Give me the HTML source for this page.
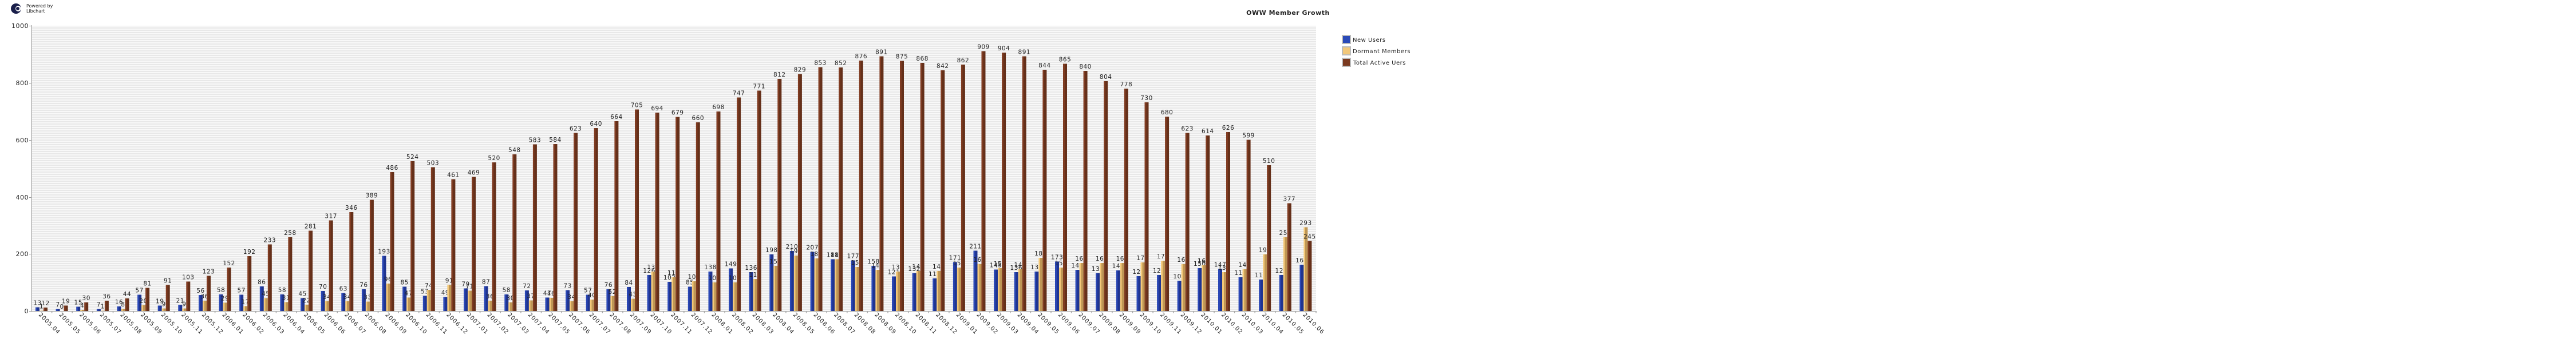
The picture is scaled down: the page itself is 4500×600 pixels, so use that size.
<!DOCTYPE html>
<html><head><meta charset="utf-8"><style>
html,body{margin:0;padding:0;background:#fff;}
svg{display:block;font-family:"DejaVu Sans","Liberation Sans",sans-serif;}
.b{fill:url(#gb)}.d{fill:url(#gd)}.t{fill:url(#gt)}
text{font-size:10.5px;fill:#222;text-anchor:middle;letter-spacing:0.5px}
.xl text{text-anchor:start;font-size:10px;letter-spacing:1px}
.yl text{text-anchor:end;font-size:11px}
</style></head><body>
<svg width="4500" height="600" viewBox="0 0 4500 600" xmlns="http://www.w3.org/2000/svg">
<defs>
<linearGradient id="gb" x1="0" x2="1" y1="0" y2="0"><stop offset="0" stop-color="#2a47b5"/><stop offset="0.4" stop-color="#2a47b5"/><stop offset="0.4" stop-color="#1f3490"/><stop offset="1" stop-color="#1f3490"/></linearGradient>
<linearGradient id="gd" x1="0" x2="1" y1="0" y2="0"><stop offset="0" stop-color="#f3c878"/><stop offset="0.4" stop-color="#f3c878"/><stop offset="0.4" stop-color="#be9655"/><stop offset="1" stop-color="#be9655"/></linearGradient>
<linearGradient id="gt" x1="0" x2="1" y1="0" y2="0"><stop offset="0" stop-color="#803c22"/><stop offset="0.4" stop-color="#803c22"/><stop offset="0.4" stop-color="#65301a"/><stop offset="1" stop-color="#65301a"/></linearGradient>
<pattern id="stripes" width="4" height="4" patternUnits="userSpaceOnUse"><rect width="4" height="4" fill="#f8f8f8"/><rect width="4" height="2" fill="#e8e8e8"/></pattern>
</defs>
<circle cx="28" cy="15" r="9" fill="#1a1f4a"/><circle cx="32" cy="15" r="5" fill="#fff"/><circle cx="31" cy="15" r="3" fill="#1a1f4a"/>
<text x="46" y="13" style="font-size:8px;text-anchor:start;letter-spacing:0">Powered by</text>
<text x="46" y="22" style="font-size:8px;text-anchor:start;letter-spacing:0">Libchart</text>
<text x="2250" y="26" style="font-size:11px;font-weight:bold;letter-spacing:0.5px">OWW Member Growth</text>
<rect x="2345" y="62" width="14" height="14" fill="#2a4ab8" stroke="#bbb" stroke-width="2"/>
<rect x="2345" y="82" width="14" height="14" fill="#f2c87a" stroke="#bbb" stroke-width="2"/>
<rect x="2345" y="102" width="14" height="14" fill="#7a3a20" stroke="#bbb" stroke-width="2"/>
<g style="font-size:10px"><text x="2363" y="73" style="text-anchor:start;font-size:10px">New Users</text>
<text x="2363" y="93" style="text-anchor:start;font-size:10px">Dormant Members</text>
<text x="2364" y="113" style="text-anchor:start;font-size:10px">Total Active Uers</text></g>
<rect x="56" y="45" width="2243" height="499" fill="url(#stripes)"/>
<line x1="55" y1="44" x2="55" y2="546" stroke="#c4c4c4" stroke-width="2"/>
<line x1="54" y1="545" x2="2300" y2="545" stroke="#c4c4c4" stroke-width="2"/>
<g stroke="#999" stroke-width="1"><line x1="51" y1="45.5" x2="55" y2="45.5"/><line x1="51" y1="145.5" x2="55" y2="145.5"/><line x1="51" y1="245.5" x2="55" y2="245.5"/><line x1="51" y1="345.5" x2="55" y2="345.5"/><line x1="51" y1="444.5" x2="55" y2="444.5"/><line x1="51" y1="544.5" x2="55" y2="544.5"/></g>
<g class="yl"><text x="50" y="49">1000</text><text x="50" y="149">800</text><text x="50" y="249">600</text><text x="50" y="349">400</text><text x="50" y="448">200</text><text x="50" y="548">0</text></g>
<g id="bars">
<g transform="translate(55,544)"><rect class="b" x="7" y="-6.5" width="7" height="6.5"/><text x="10.5" y="-10.5">13</text><rect class="d" x="14" y="-0.5" width="7" height="0.5"/><text x="17.5" y="-4.5">1</text><rect class="t" x="21" y="-6" width="7" height="6"/><text x="24.5" y="-10">12</text></g>
<g transform="translate(90.6,544)"><rect class="b" x="7" y="-3.5" width="7" height="3.5"/><text x="10.5" y="-7.5">7</text><rect class="d" x="14" y="0" width="7" height="0"/><text x="17.5" y="-4">0</text><rect class="t" x="21" y="-9.5" width="7" height="9.5"/><text x="24.5" y="-13.5">19</text></g>
<g transform="translate(126.2,544)"><rect class="b" x="7" y="-7.5" width="7" height="7.5"/><text x="10.5" y="-11.5">15</text><rect class="d" x="14" y="-2" width="7" height="2"/><text x="17.5" y="-6">4</text><rect class="t" x="21" y="-15" width="7" height="15"/><text x="24.5" y="-19">30</text></g>
<g transform="translate(161.9,544)"><rect class="b" x="7" y="-3.5" width="7" height="3.5"/><text x="10.5" y="-7.5">7</text><rect class="d" x="14" y="-0.5" width="7" height="0.5"/><text x="17.5" y="-4.5">1</text><rect class="t" x="21" y="-18" width="7" height="18"/><text x="24.5" y="-22">36</text></g>
<g transform="translate(197.5,544)"><rect class="b" x="7" y="-8" width="7" height="8"/><text x="10.5" y="-12">16</text><rect class="d" x="14" y="-4" width="7" height="4"/><text x="17.5" y="-8">8</text><rect class="t" x="21" y="-22" width="7" height="22"/><text x="24.5" y="-26">44</text></g>
<g transform="translate(233.1,544)"><rect class="b" x="7" y="-28.5" width="7" height="28.5"/><text x="10.5" y="-32.5">57</text><rect class="d" x="14" y="-10" width="7" height="10"/><text x="17.5" y="-14">20</text><rect class="t" x="21" y="-40.5" width="7" height="40.5"/><text x="24.5" y="-44.5">81</text></g>
<g transform="translate(268.7,544)"><rect class="b" x="7" y="-9.5" width="7" height="9.5"/><text x="10.5" y="-13.5">19</text><rect class="d" x="14" y="-4.5" width="7" height="4.5"/><text x="17.5" y="-8.5">9</text><rect class="t" x="21" y="-45.5" width="7" height="45.5"/><text x="24.5" y="-49.5">91</text></g>
<g transform="translate(304.3,544)"><rect class="b" x="7" y="-10.5" width="7" height="10.5"/><text x="10.5" y="-14.5">21</text><rect class="d" x="14" y="-4.5" width="7" height="4.5"/><text x="17.5" y="-8.5">9</text><rect class="t" x="21" y="-51.5" width="7" height="51.5"/><text x="24.5" y="-55.5">103</text></g>
<g transform="translate(340,544)"><rect class="b" x="7" y="-28" width="7" height="28"/><text x="10.5" y="-32">56</text><rect class="d" x="14" y="-18" width="7" height="18"/><text x="17.5" y="-22">36</text><rect class="t" x="21" y="-61.5" width="7" height="61.5"/><text x="24.5" y="-65.5">123</text></g>
<g transform="translate(375.6,544)"><rect class="b" x="7" y="-29" width="7" height="29"/><text x="10.5" y="-33">58</text><rect class="d" x="14" y="-14.5" width="7" height="14.5"/><text x="17.5" y="-18.5">29</text><rect class="t" x="21" y="-76" width="7" height="76"/><text x="24.5" y="-80">152</text></g>
<g transform="translate(411.2,544)"><rect class="b" x="7" y="-28.5" width="7" height="28.5"/><text x="10.5" y="-32.5">57</text><rect class="d" x="14" y="-8.5" width="7" height="8.5"/><text x="17.5" y="-12.5">17</text><rect class="t" x="21" y="-96" width="7" height="96"/><text x="24.5" y="-100">192</text></g>
<g transform="translate(446.8,544)"><rect class="b" x="7" y="-43" width="7" height="43"/><text x="10.5" y="-47">86</text><rect class="d" x="14" y="-22.5" width="7" height="22.5"/><text x="17.5" y="-26.5">45</text><rect class="t" x="21" y="-116.5" width="7" height="116.5"/><text x="24.5" y="-120.5">233</text></g>
<g transform="translate(482.4,544)"><rect class="b" x="7" y="-29" width="7" height="29"/><text x="10.5" y="-33">58</text><rect class="d" x="14" y="-15.5" width="7" height="15.5"/><text x="17.5" y="-19.5">31</text><rect class="t" x="21" y="-129" width="7" height="129"/><text x="24.5" y="-133">258</text></g>
<g transform="translate(518.1,544)"><rect class="b" x="7" y="-22.5" width="7" height="22.5"/><text x="10.5" y="-26.5">45</text><rect class="d" x="14" y="-11" width="7" height="11"/><text x="17.5" y="-15">22</text><rect class="t" x="21" y="-140.5" width="7" height="140.5"/><text x="24.5" y="-144.5">281</text></g>
<g transform="translate(553.7,544)"><rect class="b" x="7" y="-35" width="7" height="35"/><text x="10.5" y="-39">70</text><rect class="d" x="14" y="-17" width="7" height="17"/><text x="17.5" y="-21">34</text><rect class="t" x="21" y="-158.5" width="7" height="158.5"/><text x="24.5" y="-162.5">317</text></g>
<g transform="translate(589.3,544)"><rect class="b" x="7" y="-31.5" width="7" height="31.5"/><text x="10.5" y="-35.5">63</text><rect class="d" x="14" y="-17" width="7" height="17"/><text x="17.5" y="-21">34</text><rect class="t" x="21" y="-173" width="7" height="173"/><text x="24.5" y="-177">346</text></g>
<g transform="translate(624.9,544)"><rect class="b" x="7" y="-38" width="7" height="38"/><text x="10.5" y="-42">76</text><rect class="d" x="14" y="-16.5" width="7" height="16.5"/><text x="17.5" y="-20.5">33</text><rect class="t" x="21" y="-194.5" width="7" height="194.5"/><text x="24.5" y="-198.5">389</text></g>
<g transform="translate(660.5,544)"><rect class="b" x="7" y="-96.5" width="7" height="96.5"/><text x="10.5" y="-100.5">193</text><rect class="d" x="14" y="-48" width="7" height="48"/><text x="17.5" y="-52">96</text><rect class="t" x="21" y="-243" width="7" height="243"/><text x="24.5" y="-247">486</text></g>
<g transform="translate(696.2,544)"><rect class="b" x="7" y="-42.5" width="7" height="42.5"/><text x="10.5" y="-46.5">85</text><rect class="d" x="14" y="-23.5" width="7" height="23.5"/><text x="17.5" y="-27.5">47</text><rect class="t" x="21" y="-262" width="7" height="262"/><text x="24.5" y="-266">524</text></g>
<g transform="translate(731.8,544)"><rect class="b" x="7" y="-26.5" width="7" height="26.5"/><text x="10.5" y="-30.5">53</text><rect class="d" x="14" y="-37" width="7" height="37"/><text x="17.5" y="-41">74</text><rect class="t" x="21" y="-251.5" width="7" height="251.5"/><text x="24.5" y="-255.5">503</text></g>
<g transform="translate(767.4,544)"><rect class="b" x="7" y="-24.5" width="7" height="24.5"/><text x="10.5" y="-28.5">49</text><rect class="d" x="14" y="-45.5" width="7" height="45.5"/><text x="17.5" y="-49.5">91</text><rect class="t" x="21" y="-230.5" width="7" height="230.5"/><text x="24.5" y="-234.5">461</text></g>
<g transform="translate(803,544)"><rect class="b" x="7" y="-39.5" width="7" height="39.5"/><text x="10.5" y="-43.5">79</text><rect class="d" x="14" y="-35.5" width="7" height="35.5"/><text x="17.5" y="-39.5">71</text><rect class="t" x="21" y="-234.5" width="7" height="234.5"/><text x="24.5" y="-238.5">469</text></g>
<g transform="translate(838.6,544)"><rect class="b" x="7" y="-43.5" width="7" height="43.5"/><text x="10.5" y="-47.5">87</text><rect class="d" x="14" y="-18" width="7" height="18"/><text x="17.5" y="-22">36</text><rect class="t" x="21" y="-260" width="7" height="260"/><text x="24.5" y="-264">520</text></g>
<g transform="translate(874.3,544)"><rect class="b" x="7" y="-29" width="7" height="29"/><text x="10.5" y="-33">58</text><rect class="d" x="14" y="-15" width="7" height="15"/><text x="17.5" y="-19">30</text><rect class="t" x="21" y="-274" width="7" height="274"/><text x="24.5" y="-278">548</text></g>
<g transform="translate(909.9,544)"><rect class="b" x="7" y="-36" width="7" height="36"/><text x="10.5" y="-40">72</text><rect class="d" x="14" y="-18.5" width="7" height="18.5"/><text x="17.5" y="-22.5">37</text><rect class="t" x="21" y="-291.5" width="7" height="291.5"/><text x="24.5" y="-295.5">583</text></g>
<g transform="translate(945.5,544)"><rect class="b" x="7" y="-23.5" width="7" height="23.5"/><text x="10.5" y="-27.5">47</text><rect class="d" x="14" y="-23" width="7" height="23"/><text x="17.5" y="-27">46</text><rect class="t" x="21" y="-292" width="7" height="292"/><text x="24.5" y="-296">584</text></g>
<g transform="translate(981.1,544)"><rect class="b" x="7" y="-36.5" width="7" height="36.5"/><text x="10.5" y="-40.5">73</text><rect class="d" x="14" y="-17" width="7" height="17"/><text x="17.5" y="-21">34</text><rect class="t" x="21" y="-311.5" width="7" height="311.5"/><text x="24.5" y="-315.5">623</text></g>
<g transform="translate(1016.7,544)"><rect class="b" x="7" y="-28.5" width="7" height="28.5"/><text x="10.5" y="-32.5">57</text><rect class="d" x="14" y="-20" width="7" height="20"/><text x="17.5" y="-24">40</text><rect class="t" x="21" y="-320" width="7" height="320"/><text x="24.5" y="-324">640</text></g>
<g transform="translate(1052.4,544)"><rect class="b" x="7" y="-38" width="7" height="38"/><text x="10.5" y="-42">76</text><rect class="d" x="14" y="-26" width="7" height="26"/><text x="17.5" y="-30">52</text><rect class="t" x="21" y="-332" width="7" height="332"/><text x="24.5" y="-336">664</text></g>
<g transform="translate(1088,544)"><rect class="b" x="7" y="-42" width="7" height="42"/><text x="10.5" y="-46">84</text><rect class="d" x="14" y="-21.5" width="7" height="21.5"/><text x="17.5" y="-25.5">43</text><rect class="t" x="21" y="-352.5" width="7" height="352.5"/><text x="24.5" y="-356.5">705</text></g>
<g transform="translate(1123.6,544)"><rect class="b" x="7" y="-63" width="7" height="63"/><text x="10.5" y="-67">126</text><rect class="d" x="14" y="-69" width="7" height="69"/><text x="17.5" y="-73">138</text><rect class="t" x="21" y="-347" width="7" height="347"/><text x="24.5" y="-351">694</text></g>
<g transform="translate(1159.2,544)"><rect class="b" x="7" y="-51" width="7" height="51"/><text x="10.5" y="-55">102</text><rect class="d" x="14" y="-59" width="7" height="59"/><text x="17.5" y="-63">118</text><rect class="t" x="21" y="-339.5" width="7" height="339.5"/><text x="24.5" y="-343.5">679</text></g>
<g transform="translate(1194.8,544)"><rect class="b" x="7" y="-42.5" width="7" height="42.5"/><text x="10.5" y="-46.5">85</text><rect class="d" x="14" y="-52" width="7" height="52"/><text x="17.5" y="-56">104</text><rect class="t" x="21" y="-330" width="7" height="330"/><text x="24.5" y="-334">660</text></g>
<g transform="translate(1230.5,544)"><rect class="b" x="7" y="-69" width="7" height="69"/><text x="10.5" y="-73">138</text><rect class="d" x="14" y="-50" width="7" height="50"/><text x="17.5" y="-54">100</text><rect class="t" x="21" y="-349" width="7" height="349"/><text x="24.5" y="-353">698</text></g>
<g transform="translate(1266.1,544)"><rect class="b" x="7" y="-74.5" width="7" height="74.5"/><text x="10.5" y="-78.5">149</text><rect class="d" x="14" y="-50" width="7" height="50"/><text x="17.5" y="-54">100</text><rect class="t" x="21" y="-373.5" width="7" height="373.5"/><text x="24.5" y="-377.5">747</text></g>
<g transform="translate(1301.7,544)"><rect class="b" x="7" y="-68" width="7" height="68"/><text x="10.5" y="-72">136</text><rect class="d" x="14" y="-56" width="7" height="56"/><text x="17.5" y="-60">112</text><rect class="t" x="21" y="-385.5" width="7" height="385.5"/><text x="24.5" y="-389.5">771</text></g>
<g transform="translate(1337.3,544)"><rect class="b" x="7" y="-99" width="7" height="99"/><text x="10.5" y="-103">198</text><rect class="d" x="14" y="-79" width="7" height="79"/><text x="17.5" y="-83">158</text><rect class="t" x="21" y="-406" width="7" height="406"/><text x="24.5" y="-410">812</text></g>
<g transform="translate(1372.9,544)"><rect class="b" x="7" y="-105" width="7" height="105"/><text x="10.5" y="-109">210</text><rect class="d" x="14" y="-97" width="7" height="97"/><text x="17.5" y="-101">194</text><rect class="t" x="21" y="-414.5" width="7" height="414.5"/><text x="24.5" y="-418.5">829</text></g>
<g transform="translate(1408.6,544)"><rect class="b" x="7" y="-103.5" width="7" height="103.5"/><text x="10.5" y="-107.5">207</text><rect class="d" x="14" y="-92" width="7" height="92"/><text x="17.5" y="-96">184</text><rect class="t" x="21" y="-426.5" width="7" height="426.5"/><text x="24.5" y="-430.5">853</text></g>
<g transform="translate(1444.2,544)"><rect class="b" x="7" y="-90.5" width="7" height="90.5"/><text x="10.5" y="-94.5">181</text><rect class="d" x="14" y="-90.5" width="7" height="90.5"/><text x="17.5" y="-94.5">181</text><rect class="t" x="21" y="-426" width="7" height="426"/><text x="24.5" y="-430">852</text></g>
<g transform="translate(1479.8,544)"><rect class="b" x="7" y="-88.5" width="7" height="88.5"/><text x="10.5" y="-92.5">177</text><rect class="d" x="14" y="-77" width="7" height="77"/><text x="17.5" y="-81">154</text><rect class="t" x="21" y="-438" width="7" height="438"/><text x="24.5" y="-442">876</text></g>
<g transform="translate(1515.4,544)"><rect class="b" x="7" y="-79" width="7" height="79"/><text x="10.5" y="-83">158</text><rect class="d" x="14" y="-72" width="7" height="72"/><text x="17.5" y="-76">144</text><rect class="t" x="21" y="-445.5" width="7" height="445.5"/><text x="24.5" y="-449.5">891</text></g>
<g transform="translate(1551,544)"><rect class="b" x="7" y="-60.5" width="7" height="60.5"/><text x="10.5" y="-64.5">121</text><rect class="d" x="14" y="-69" width="7" height="69"/><text x="17.5" y="-73">138</text><rect class="t" x="21" y="-437.5" width="7" height="437.5"/><text x="24.5" y="-441.5">875</text></g>
<g transform="translate(1586.7,544)"><rect class="b" x="7" y="-66" width="7" height="66"/><text x="10.5" y="-70">132</text><rect class="d" x="14" y="-70" width="7" height="70"/><text x="17.5" y="-74">140</text><rect class="t" x="21" y="-434" width="7" height="434"/><text x="24.5" y="-438">868</text></g>
<g transform="translate(1622.3,544)"><rect class="b" x="7" y="-57" width="7" height="57"/><text x="10.5" y="-61">114</text><rect class="d" x="14" y="-70" width="7" height="70"/><text x="17.5" y="-74">140</text><rect class="t" x="21" y="-421" width="7" height="421"/><text x="24.5" y="-425">842</text></g>
<g transform="translate(1657.9,544)"><rect class="b" x="7" y="-85.5" width="7" height="85.5"/><text x="10.5" y="-89.5">171</text><rect class="d" x="14" y="-76" width="7" height="76"/><text x="17.5" y="-80">152</text><rect class="t" x="21" y="-431" width="7" height="431"/><text x="24.5" y="-435">862</text></g>
<g transform="translate(1693.5,544)"><rect class="b" x="7" y="-105.5" width="7" height="105.5"/><text x="10.5" y="-109.5">211</text><rect class="d" x="14" y="-82" width="7" height="82"/><text x="17.5" y="-86">164</text><rect class="t" x="21" y="-454.5" width="7" height="454.5"/><text x="24.5" y="-458.5">909</text></g>
<g transform="translate(1729.1,544)"><rect class="b" x="7" y="-72.5" width="7" height="72.5"/><text x="10.5" y="-76.5">145</text><rect class="d" x="14" y="-75" width="7" height="75"/><text x="17.5" y="-79">150</text><rect class="t" x="21" y="-452" width="7" height="452"/><text x="24.5" y="-456">904</text></g>
<g transform="translate(1764.8,544)"><rect class="b" x="7" y="-68" width="7" height="68"/><text x="10.5" y="-72">136</text><rect class="d" x="14" y="-73" width="7" height="73"/><text x="17.5" y="-77">146</text><rect class="t" x="21" y="-445.5" width="7" height="445.5"/><text x="24.5" y="-449.5">891</text></g>
<g transform="translate(1800.4,544)"><rect class="b" x="7" y="-69" width="7" height="69"/><text x="10.5" y="-73">138</text><rect class="d" x="14" y="-93" width="7" height="93"/><text x="17.5" y="-97">186</text><rect class="t" x="21" y="-422" width="7" height="422"/><text x="24.5" y="-426">844</text></g>
<g transform="translate(1836,544)"><rect class="b" x="7" y="-86.5" width="7" height="86.5"/><text x="10.5" y="-90.5">173</text><rect class="d" x="14" y="-76" width="7" height="76"/><text x="17.5" y="-80">152</text><rect class="t" x="21" y="-432.5" width="7" height="432.5"/><text x="24.5" y="-436.5">865</text></g>
<g transform="translate(1871.6,544)"><rect class="b" x="7" y="-72" width="7" height="72"/><text x="10.5" y="-76">144</text><rect class="d" x="14" y="-84" width="7" height="84"/><text x="17.5" y="-88">168</text><rect class="t" x="21" y="-420" width="7" height="420"/><text x="24.5" y="-424">840</text></g>
<g transform="translate(1907.2,544)"><rect class="b" x="7" y="-66" width="7" height="66"/><text x="10.5" y="-70">132</text><rect class="d" x="14" y="-84" width="7" height="84"/><text x="17.5" y="-88">168</text><rect class="t" x="21" y="-402" width="7" height="402"/><text x="24.5" y="-406">804</text></g>
<g transform="translate(1942.9,544)"><rect class="b" x="7" y="-71" width="7" height="71"/><text x="10.5" y="-75">142</text><rect class="d" x="14" y="-84" width="7" height="84"/><text x="17.5" y="-88">168</text><rect class="t" x="21" y="-389" width="7" height="389"/><text x="24.5" y="-393">778</text></g>
<g transform="translate(1978.5,544)"><rect class="b" x="7" y="-61" width="7" height="61"/><text x="10.5" y="-65">122</text><rect class="d" x="14" y="-85" width="7" height="85"/><text x="17.5" y="-89">170</text><rect class="t" x="21" y="-365" width="7" height="365"/><text x="24.5" y="-369">730</text></g>
<g transform="translate(2014.1,544)"><rect class="b" x="7" y="-63" width="7" height="63"/><text x="10.5" y="-67">126</text><rect class="d" x="14" y="-88" width="7" height="88"/><text x="17.5" y="-92">176</text><rect class="t" x="21" y="-340" width="7" height="340"/><text x="24.5" y="-344">680</text></g>
<g transform="translate(2049.7,544)"><rect class="b" x="7" y="-53" width="7" height="53"/><text x="10.5" y="-57">106</text><rect class="d" x="14" y="-82" width="7" height="82"/><text x="17.5" y="-86">164</text><rect class="t" x="21" y="-311.5" width="7" height="311.5"/><text x="24.5" y="-315.5">623</text></g>
<g transform="translate(2085.3,544)"><rect class="b" x="7" y="-75" width="7" height="75"/><text x="10.5" y="-79">150</text><rect class="d" x="14" y="-80" width="7" height="80"/><text x="17.5" y="-84">160</text><rect class="t" x="21" y="-307" width="7" height="307"/><text x="24.5" y="-311">614</text></g>
<g transform="translate(2121,544)"><rect class="b" x="7" y="-73.5" width="7" height="73.5"/><text x="10.5" y="-77.5">147</text><rect class="d" x="14" y="-68" width="7" height="68"/><text x="17.5" y="-72">136</text><rect class="t" x="21" y="-313" width="7" height="313"/><text x="24.5" y="-317">626</text></g>
<g transform="translate(2156.6,544)"><rect class="b" x="7" y="-59" width="7" height="59"/><text x="10.5" y="-63">118</text><rect class="d" x="14" y="-73" width="7" height="73"/><text x="17.5" y="-77">146</text><rect class="t" x="21" y="-299.5" width="7" height="299.5"/><text x="24.5" y="-303.5">599</text></g>
<g transform="translate(2192.2,544)"><rect class="b" x="7" y="-55" width="7" height="55"/><text x="10.5" y="-59">110</text><rect class="d" x="14" y="-99" width="7" height="99"/><text x="17.5" y="-103">198</text><rect class="t" x="21" y="-255" width="7" height="255"/><text x="24.5" y="-259">510</text></g>
<g transform="translate(2227.8,544)"><rect class="b" x="7" y="-63" width="7" height="63"/><text x="10.5" y="-67">126</text><rect class="d" x="14" y="-129" width="7" height="129"/><text x="17.5" y="-133">258</text><rect class="t" x="21" y="-188.5" width="7" height="188.5"/><text x="24.5" y="-192.5">377</text></g>
<g transform="translate(2263.4,544)"><rect class="b" x="7" y="-81" width="7" height="81"/><text x="10.5" y="-85">162</text><rect class="d" x="14" y="-146.5" width="7" height="146.5"/><text x="17.5" y="-150.5">293</text><rect class="t" x="21" y="-122.5" width="7" height="122.5"/><text x="24.5" y="-126.5">245</text></g>
</g>
<g stroke="#aaa" stroke-width="1.5">
<line x1="90.6" y1="544" x2="90.6" y2="548"/><line x1="126.2" y1="544" x2="126.2" y2="548"/><line x1="161.9" y1="544" x2="161.9" y2="548"/><line x1="197.5" y1="544" x2="197.5" y2="548"/><line x1="233.1" y1="544" x2="233.1" y2="548"/><line x1="268.7" y1="544" x2="268.7" y2="548"/><line x1="304.3" y1="544" x2="304.3" y2="548"/><line x1="340" y1="544" x2="340" y2="548"/><line x1="375.6" y1="544" x2="375.6" y2="548"/><line x1="411.2" y1="544" x2="411.2" y2="548"/><line x1="446.8" y1="544" x2="446.8" y2="548"/><line x1="482.4" y1="544" x2="482.4" y2="548"/><line x1="518.1" y1="544" x2="518.1" y2="548"/><line x1="553.7" y1="544" x2="553.7" y2="548"/><line x1="589.3" y1="544" x2="589.3" y2="548"/><line x1="624.9" y1="544" x2="624.9" y2="548"/><line x1="660.5" y1="544" x2="660.5" y2="548"/><line x1="696.2" y1="544" x2="696.2" y2="548"/><line x1="731.8" y1="544" x2="731.8" y2="548"/><line x1="767.4" y1="544" x2="767.4" y2="548"/><line x1="803" y1="544" x2="803" y2="548"/><line x1="838.6" y1="544" x2="838.6" y2="548"/><line x1="874.3" y1="544" x2="874.3" y2="548"/><line x1="909.9" y1="544" x2="909.9" y2="548"/><line x1="945.5" y1="544" x2="945.5" y2="548"/><line x1="981.1" y1="544" x2="981.1" y2="548"/><line x1="1016.7" y1="544" x2="1016.7" y2="548"/><line x1="1052.4" y1="544" x2="1052.4" y2="548"/><line x1="1088" y1="544" x2="1088" y2="548"/><line x1="1123.6" y1="544" x2="1123.6" y2="548"/><line x1="1159.2" y1="544" x2="1159.2" y2="548"/><line x1="1194.8" y1="544" x2="1194.8" y2="548"/><line x1="1230.5" y1="544" x2="1230.5" y2="548"/><line x1="1266.1" y1="544" x2="1266.1" y2="548"/><line x1="1301.7" y1="544" x2="1301.7" y2="548"/><line x1="1337.3" y1="544" x2="1337.3" y2="548"/><line x1="1372.9" y1="544" x2="1372.9" y2="548"/><line x1="1408.6" y1="544" x2="1408.6" y2="548"/><line x1="1444.2" y1="544" x2="1444.2" y2="548"/><line x1="1479.8" y1="544" x2="1479.8" y2="548"/><line x1="1515.4" y1="544" x2="1515.4" y2="548"/><line x1="1551" y1="544" x2="1551" y2="548"/><line x1="1586.7" y1="544" x2="1586.7" y2="548"/><line x1="1622.3" y1="544" x2="1622.3" y2="548"/><line x1="1657.9" y1="544" x2="1657.9" y2="548"/><line x1="1693.5" y1="544" x2="1693.5" y2="548"/><line x1="1729.1" y1="544" x2="1729.1" y2="548"/><line x1="1764.8" y1="544" x2="1764.8" y2="548"/><line x1="1800.4" y1="544" x2="1800.4" y2="548"/><line x1="1836" y1="544" x2="1836" y2="548"/><line x1="1871.6" y1="544" x2="1871.6" y2="548"/><line x1="1907.2" y1="544" x2="1907.2" y2="548"/><line x1="1942.9" y1="544" x2="1942.9" y2="548"/><line x1="1978.5" y1="544" x2="1978.5" y2="548"/><line x1="2014.1" y1="544" x2="2014.1" y2="548"/><line x1="2049.7" y1="544" x2="2049.7" y2="548"/><line x1="2085.3" y1="544" x2="2085.3" y2="548"/><line x1="2121" y1="544" x2="2121" y2="548"/><line x1="2156.6" y1="544" x2="2156.6" y2="548"/><line x1="2192.2" y1="544" x2="2192.2" y2="548"/><line x1="2227.8" y1="544" x2="2227.8" y2="548"/><line x1="2263.4" y1="544" x2="2263.4" y2="548"/><line x1="2299" y1="544" x2="2299" y2="548"/>
</g>
<g class="xl">
<text transform="translate(67,551) rotate(45)">2005.04</text>
<text transform="translate(102.6,551) rotate(45)">2005.05</text>
<text transform="translate(138.2,551) rotate(45)">2005.06</text>
<text transform="translate(173.9,551) rotate(45)">2005.07</text>
<text transform="translate(209.5,551) rotate(45)">2005.08</text>
<text transform="translate(245.1,551) rotate(45)">2005.09</text>
<text transform="translate(280.7,551) rotate(45)">2005.10</text>
<text transform="translate(316.3,551) rotate(45)">2005.11</text>
<text transform="translate(352,551) rotate(45)">2005.12</text>
<text transform="translate(387.6,551) rotate(45)">2006.01</text>
<text transform="translate(423.2,551) rotate(45)">2006.02</text>
<text transform="translate(458.8,551) rotate(45)">2006.03</text>
<text transform="translate(494.4,551) rotate(45)">2006.04</text>
<text transform="translate(530.1,551) rotate(45)">2006.05</text>
<text transform="translate(565.7,551) rotate(45)">2006.06</text>
<text transform="translate(601.3,551) rotate(45)">2006.07</text>
<text transform="translate(636.9,551) rotate(45)">2006.08</text>
<text transform="translate(672.5,551) rotate(45)">2006.09</text>
<text transform="translate(708.2,551) rotate(45)">2006.10</text>
<text transform="translate(743.8,551) rotate(45)">2006.11</text>
<text transform="translate(779.4,551) rotate(45)">2006.12</text>
<text transform="translate(815,551) rotate(45)">2007.01</text>
<text transform="translate(850.6,551) rotate(45)">2007.02</text>
<text transform="translate(886.3,551) rotate(45)">2007.03</text>
<text transform="translate(921.9,551) rotate(45)">2007.04</text>
<text transform="translate(957.5,551) rotate(45)">2007.05</text>
<text transform="translate(993.1,551) rotate(45)">2007.06</text>
<text transform="translate(1028.7,551) rotate(45)">2007.07</text>
<text transform="translate(1064.4,551) rotate(45)">2007.08</text>
<text transform="translate(1100,551) rotate(45)">2007.09</text>
<text transform="translate(1135.6,551) rotate(45)">2007.10</text>
<text transform="translate(1171.2,551) rotate(45)">2007.11</text>
<text transform="translate(1206.8,551) rotate(45)">2007.12</text>
<text transform="translate(1242.5,551) rotate(45)">2008.01</text>
<text transform="translate(1278.1,551) rotate(45)">2008.02</text>
<text transform="translate(1313.7,551) rotate(45)">2008.03</text>
<text transform="translate(1349.3,551) rotate(45)">2008.04</text>
<text transform="translate(1384.9,551) rotate(45)">2008.05</text>
<text transform="translate(1420.6,551) rotate(45)">2008.06</text>
<text transform="translate(1456.2,551) rotate(45)">2008.07</text>
<text transform="translate(1491.8,551) rotate(45)">2008.08</text>
<text transform="translate(1527.4,551) rotate(45)">2008.09</text>
<text transform="translate(1563,551) rotate(45)">2008.10</text>
<text transform="translate(1598.7,551) rotate(45)">2008.11</text>
<text transform="translate(1634.3,551) rotate(45)">2008.12</text>
<text transform="translate(1669.9,551) rotate(45)">2009.01</text>
<text transform="translate(1705.5,551) rotate(45)">2009.02</text>
<text transform="translate(1741.1,551) rotate(45)">2009.03</text>
<text transform="translate(1776.8,551) rotate(45)">2009.04</text>
<text transform="translate(1812.4,551) rotate(45)">2009.05</text>
<text transform="translate(1848,551) rotate(45)">2009.06</text>
<text transform="translate(1883.6,551) rotate(45)">2009.07</text>
<text transform="translate(1919.2,551) rotate(45)">2009.08</text>
<text transform="translate(1954.9,551) rotate(45)">2009.09</text>
<text transform="translate(1990.5,551) rotate(45)">2009.10</text>
<text transform="translate(2026.1,551) rotate(45)">2009.11</text>
<text transform="translate(2061.7,551) rotate(45)">2009.12</text>
<text transform="translate(2097.3,551) rotate(45)">2010.01</text>
<text transform="translate(2133,551) rotate(45)">2010.02</text>
<text transform="translate(2168.6,551) rotate(45)">2010.03</text>
<text transform="translate(2204.2,551) rotate(45)">2010.04</text>
<text transform="translate(2239.8,551) rotate(45)">2010.05</text>
<text transform="translate(2275.4,551) rotate(45)">2010.06</text>
</g>
</svg>
</body></html>
